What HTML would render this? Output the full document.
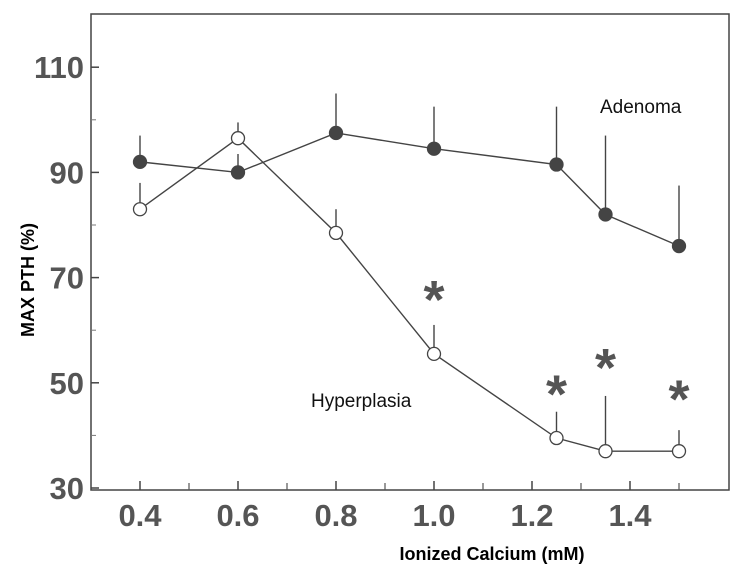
<!DOCTYPE html>
<html><head><meta charset="utf-8"><style>
body{margin:0;background:#fff;}
svg{display:block;font-family:"Liberation Sans",sans-serif;}
</style></head><body>
<svg id="chart" width="738" height="579">
<rect x="0" y="0" width="738" height="579" fill="#fff"/>
<rect x="91" y="14" width="638" height="476" fill="none" stroke="#444" stroke-width="1.5"/>
<g id="axes"></g>
<g id="series"></g>
<rect x="583" y="88" width="140" height="36" fill="#fff"/>
<text x="600" y="113" font-size="19" fill="#111">Adenoma</text>
<rect x="295" y="382" width="150" height="36" fill="#fff"/>
<text x="311" y="407" font-size="19" fill="#111">Hyperplasia</text>
<text transform="translate(34,280) rotate(-90)" text-anchor="middle" font-size="18" font-weight="bold" fill="#000">MAX PTH (%)</text>
<text x="492" y="560" text-anchor="middle" font-size="18" font-weight="bold" fill="#000">Ionized Calcium (mM)</text>
</svg>
<script>
const xCats=[0.4,0.6,0.8,1.0,1.25,1.35,1.5];
const adenoma=[92,90,97.5,94.5,91.5,82,76];
const adenomaErr=[97,93.5,105,102.5,102.5,97,87.5];
const hyper=[83,96.5,78.5,55.5,39.5,37,37];
const hyperErr=[88,99.5,83,61,44.5,47.5,41];
const starX=[1.0,1.25,1.35,1.5];
const starY=[67.5,49.5,54.5,48.5];
const yTicks=[30,50,70,90,110];
const yMinor=[40,60,80,100];
const xTicks=["0.4","0.6","0.8","1.0","1.2","1.4"];
const xMinor=[0.5,0.7,0.9,1.1,1.3,1.5];
const X=v=>91+(v-0.3)*490;
const Y=v=>488-(v-30)*5.26;
const NS="http://www.w3.org/2000/svg";
function mk(tag,attrs,parent){const e=document.createElementNS(NS,tag);for(const k in attrs)e.setAttribute(k,attrs[k]);parent.appendChild(e);return e;}
const ax=document.getElementById('axes'),se=document.getElementById('series');
yTicks.forEach(t=>{
 const l=mk('line',{x1:91,x2:99,y1:Y(t),y2:Y(t),stroke:'#444','stroke-width':1.5},ax);
 
 
 const tx=mk('text',{x:84,y:Y(t)+11,'text-anchor':'end','font-size':31,'font-weight':'bold',fill:'#555'},ax);
 tx.textContent=t;
 
 
});
yMinor.forEach(t=>{
 const l=mk('line',{x1:91,x2:96,y1:Y(t),y2:Y(t),stroke:'#777','stroke-width':1},ax);
 
 
});
xTicks.forEach(t=>{
 const v=parseFloat(t);
 const l=mk('line',{x1:X(v),x2:X(v),y1:490,y2:481,stroke:'#444','stroke-width':1.5},ax);
 
 
 const tx=mk('text',{x:X(v),y:526,'text-anchor':'middle','font-size':31,'font-weight':'bold',fill:'#555'},ax);
 tx.textContent=t;
 
 
});
xMinor.forEach(v=>{
 const l=mk('line',{x1:X(v),x2:X(v),y1:490,y2:483,stroke:'#555','stroke-width':1.2},ax);
 
 
});
function series(vals,errs,filled,name){
 errs.forEach((e,i)=>{
  const l=mk('line',{x1:X(xCats[i]),x2:X(xCats[i]),y1:Y(vals[i]),y2:Y(e),stroke:'#444','stroke-width':1.4},se);
  
  
 });
 const p=mk('polyline',{points:vals.map((v,i)=>X(xCats[i])+','+Y(v)).join(' '),fill:'none',stroke:'#444','stroke-width':1.4},se);
 
 
 vals.forEach((v,i)=>{
  const c=mk('circle',{cx:X(xCats[i]),cy:Y(v),r:6.5,fill:filled?'#444':'#fff',stroke:'#444','stroke-width':1.3},se);
  
  
 });
}
series(adenoma,adenomaErr,true,'adenoma');
series(hyper,hyperErr,false,'hyperplasia');
starX.forEach((v,i)=>{
 const t=mk('text',{x:X(v),y:Y(starY[i])+27,'text-anchor':'middle','font-size':54,'font-weight':'bold',fill:'#555'},se);
 t.textContent='*';
 
 
});
</script>
</body></html>
